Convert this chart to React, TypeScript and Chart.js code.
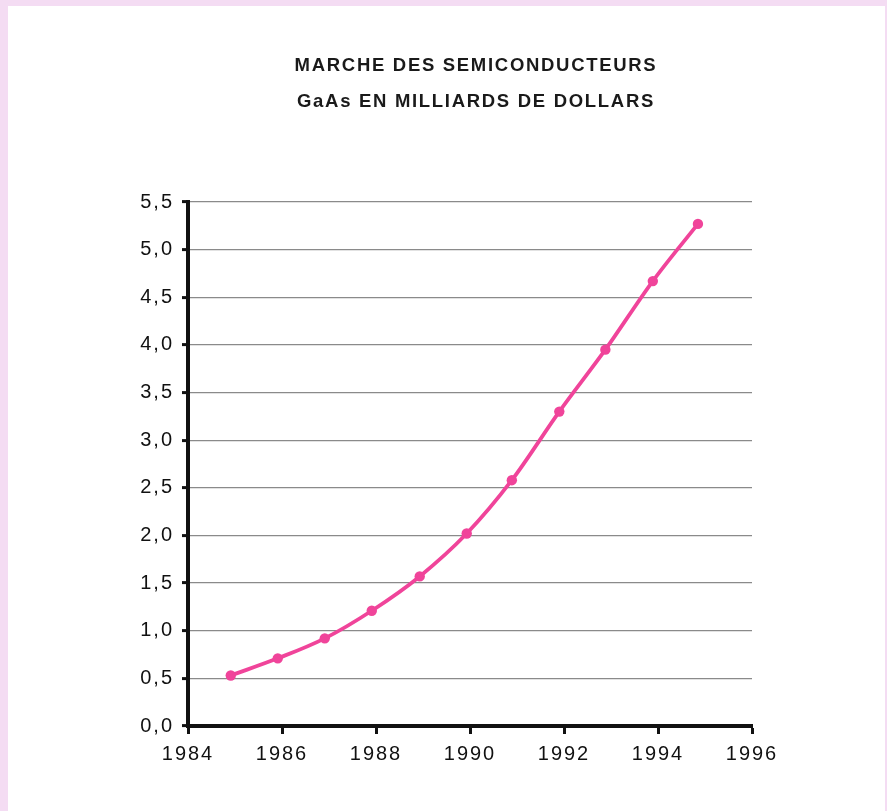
import { useEffect, useRef } from "react";
import { Chart, registerables } from "chart.js";

Chart.register(...registerables);

const titleLines = ["MARCHE DES SEMICONDUCTEURS", "GaAs EN MILLIARDS DE DOLLARS"];
// x positions of the plotted points (years)
const pointYears = [1984.91, 1985.91, 1986.91, 1987.91, 1988.93, 1989.93, 1990.89, 1991.9, 1992.88, 1993.89, 1994.85];
// market in billions of dollars
const marketValues = [0.53, 0.71, 0.92, 1.21, 1.57, 2.02, 2.58, 3.3, 3.95, 4.67, 5.27];
const xMin = 1984;
const xMax = 1996;
const xStep = 2;
const yMin = 0;
const yMax = 5.5;
const yStep = 0.5;

const PINK = "#f0449a";
const FONT = "'Liberation Sans', Arial, Helvetica, sans-serif";

const spacingPlugin = {
  id: "letterSpacing",
  beforeDraw(chart: any) {
    (chart.ctx as any).letterSpacing = "2px";
  },
};

export default function App() {
  const ref = useRef<HTMLCanvasElement | null>(null);

  useEffect(() => {
    if (!ref.current) return;
    const chart = new Chart(ref.current, {
      type: "line",
      data: {
        datasets: [
          {
            data: pointYears.map((x, i) => ({ x, y: marketValues[i] })),
            borderColor: PINK,
            backgroundColor: PINK,
            borderWidth: 3.8,
            pointRadius: 5.2,
            pointBorderWidth: 0,
            pointBackgroundColor: PINK,
            cubicInterpolationMode: "monotone",
            fill: false,
          },
        ],
      },
      plugins: [spacingPlugin],
      options: {
        animation: false,
        responsive: false,
        events: [],
        layout: { padding: { left: 128, right: 135, top: 202, bottom: 45 } },
        plugins: {
          legend: { display: false },
          title: { display: false },
          tooltip: { enabled: false },
        },
        scales: {
          x: {
            type: "linear",
            min: xMin,
            max: xMax,
            afterFit: (s: any) => {
              s.height = 40;
            },
            ticks: {
              stepSize: xStep,
              color: "#111",
              padding: 8,
              font: { family: FONT, size: 20 },
              callback: (v: any) => String(v),
            },
            grid: {
              drawOnChartArea: false,
              drawTicks: true,
              tickLength: 8,
              tickColor: "#111",
              tickWidth: 3,
            },
            border: { display: true, color: "#111", width: 4 },
          },
          y: {
            type: "linear",
            min: yMin,
            max: yMax,
            afterFit: (s: any) => {
              s.width = 60;
            },
            ticks: {
              stepSize: yStep,
              color: "#111",
              padding: 8,
              font: { family: FONT, size: 20 },
              callback: (v: any) => Number(v).toFixed(1).replace(".", ","),
            },
            grid: {
              color: "#8a8a8a",
              lineWidth: 1.2,
              drawTicks: true,
              tickLength: 6,
              tickColor: "#111",
              tickWidth: 3,
            },
            border: { display: true, color: "#111", width: 4 },
          },
        },
      },
    } as any);
    return () => chart.destroy();
  }, []);

  return (
    <div
      style={{
        position: "fixed",
        left: 0,
        top: 0,
        width: 887,
        height: 811,
        background: "#f4dcf3",
        overflow: "hidden",
      }}
    >
      <div
        style={{
          position: "absolute",
          left: 8,
          top: 6,
          right: 2,
          bottom: 0,
          background: "#ffffff",
        }}
      />
      <canvas
        ref={ref}
        width={887}
        height={811}
        style={{ position: "absolute", left: 0, top: 0, width: 887, height: 811 }}
      />
      {titleLines.map((t, i) => (
        <div
          key={i}
          style={{
            position: "absolute",
            left: 476,
            top: i === 0 ? 55.5 : 92,
            transform: "translateX(-50%)",
            whiteSpace: "nowrap",
            fontFamily: FONT,
            fontSize: 18.5,
            fontWeight: "bold",
            lineHeight: "18.5px",
            letterSpacing: "1.7px",
            color: "#1a1a1a",
          }}
        >
          {t}
        </div>
      ))}
    </div>
  );
}
